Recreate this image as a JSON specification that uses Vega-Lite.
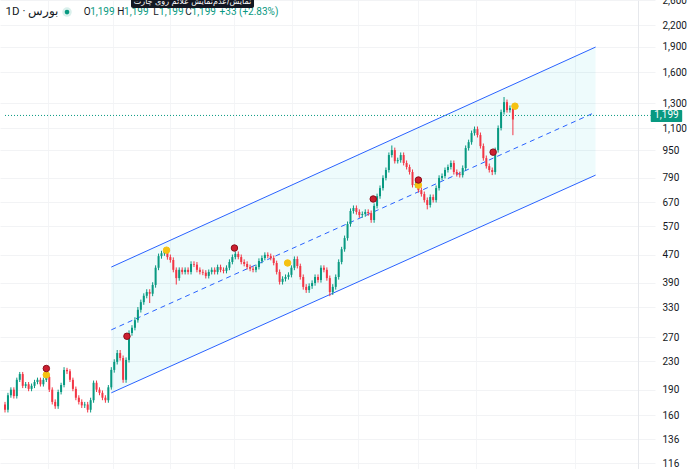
{
"$schema":"https://vega.github.io/schema/vega-lite/v6.json",
"width":638,"height":469,
"autosize":{"type":"none"},
"padding":{"left":0,"top":0,"right":52,"bottom":0},
"background":"white",
"config":{"view":{"stroke":null},"font":"Roboto"},
"datasets":{
"one":[{}],
"chan":[{"i":36,"up":433,"mid":284,"lo":186},{"i":200,"up":1898,"mid":1226,"lo":803}],
"sig":[{"i":14,"p":210,"k":"y"},{"i":14,"p":219,"k":"r"},{"i":41.3,"p":272,"k":"r"},{"i":54.7,"p":485,"k":"y"},{"i":77.7,"p":492,"k":"r"},{"i":95.7,"p":445,"k":"y"},{"i":124.7,"p":684,"k":"r"},{"i":140,"p":751,"k":"y"},{"i":140,"p":777,"k":"r"},{"i":165.3,"p":937,"k":"r"},{"i":172.7,"p":1276,"k":"y"}],
"candles":[
{"i":0,"o":172,"h":175,"l":163,"c":166},{"i":1,"o":166,"h":186,"l":163,"c":183},{"i":2,"o":183,"h":193,"l":180,"c":190},{"i":3,"o":190,"h":193,"l":179,"c":182},{"i":4,"o":182,"h":206,"l":179,"c":203},{"i":5,"o":203,"h":214,"l":200,"c":211},{"i":6,"o":211,"h":214,"l":192,"c":195},{"i":7,"o":195,"h":200,"l":192,"c":197},{"i":8,"o":197,"h":200,"l":188,"c":191},{"i":9,"o":191,"h":198,"l":188,"c":195},
{"i":10,"o":195,"h":203,"l":192,"c":200},{"i":11,"o":200,"h":206,"l":197,"c":203},{"i":12,"o":203,"h":206,"l":194,"c":197},{"i":13,"o":197,"h":206,"l":194,"c":203},{"i":14,"o":203,"h":212,"l":200,"c":207},{"i":15,"o":207,"h":210,"l":187,"c":190},{"i":16,"o":190,"h":193,"l":172,"c":175},{"i":17,"o":175,"h":178,"l":167,"c":170},{"i":18,"o":170,"h":190,"l":167,"c":187},{"i":19,"o":187,"h":199,"l":184,"c":196},
{"i":20,"o":196,"h":221,"l":193,"c":217},{"i":21,"o":217,"h":220,"l":211,"c":215},{"i":22,"o":215,"h":218,"l":200,"c":203},{"i":23,"o":203,"h":206,"l":188,"c":191},{"i":24,"o":191,"h":194,"l":177,"c":180},{"i":25,"o":180,"h":183,"l":172,"c":175},{"i":26,"o":175,"h":178,"l":168,"c":171},{"i":27,"o":171,"h":175,"l":168,"c":172},{"i":28,"o":172,"h":175,"l":163,"c":166},{"i":29,"o":166,"h":180,"l":163,"c":177},
{"i":30,"o":177,"h":202,"l":174,"c":199},{"i":31,"o":199,"h":202,"l":187,"c":190},{"i":32,"o":190,"h":193,"l":183,"c":186},{"i":33,"o":186,"h":189,"l":177,"c":180},{"i":34,"o":180,"h":183,"l":174,"c":177},{"i":35,"o":177,"h":196,"l":174,"c":193},{"i":36,"o":193,"h":221,"l":190,"c":217},{"i":37,"o":217,"h":233,"l":213,"c":229},{"i":38,"o":229,"h":248,"l":225,"c":243},{"i":39,"o":243,"h":248,"l":231,"c":235},
{"i":40,"o":235,"h":239,"l":199,"c":203},{"i":41,"o":203,"h":236,"l":199,"c":232},{"i":42,"o":232,"h":283,"l":228,"c":278},{"i":43,"o":278,"h":293,"l":273,"c":288},{"i":44,"o":288,"h":309,"l":283,"c":303},{"i":45,"o":303,"h":331,"l":298,"c":325},{"i":46,"o":325,"h":348,"l":319,"c":342},{"i":47,"o":342,"h":363,"l":336,"c":357},{"i":48,"o":357,"h":373,"l":351,"c":366},{"i":49,"o":366,"h":373,"l":340,"c":362},
{"i":50,"o":362,"h":391,"l":356,"c":384},{"i":51,"o":384,"h":438,"l":377,"c":431},{"i":52,"o":431,"h":474,"l":424,"c":466},{"i":53,"o":466,"h":483,"l":458,"c":475},{"i":54,"o":475,"h":492,"l":467,"c":482},{"i":55,"o":482,"h":490,"l":455,"c":463},{"i":56,"o":463,"h":471,"l":446,"c":454},{"i":57,"o":454,"h":462,"l":418,"c":425},{"i":58,"o":425,"h":432,"l":385,"c":402},{"i":59,"o":402,"h":432,"l":395,"c":425},
{"i":60,"o":425,"h":432,"l":412,"c":419},{"i":61,"o":419,"h":432,"l":412,"c":425},{"i":62,"o":425,"h":432,"l":412,"c":419},{"i":63,"o":419,"h":450,"l":412,"c":442},{"i":64,"o":442,"h":450,"l":433,"c":440},{"i":65,"o":440,"h":448,"l":418,"c":425},{"i":66,"o":425,"h":432,"l":412,"c":419},{"i":67,"o":419,"h":426,"l":410,"c":417},{"i":68,"o":417,"h":424,"l":401,"c":408},{"i":69,"o":408,"h":426,"l":401,"c":419},
{"i":70,"o":419,"h":432,"l":412,"c":425},{"i":71,"o":425,"h":432,"l":412,"c":419},{"i":72,"o":419,"h":440,"l":412,"c":433},{"i":73,"o":433,"h":440,"l":418,"c":425},{"i":74,"o":425,"h":432,"l":415,"c":422},{"i":75,"o":422,"h":438,"l":415,"c":431},{"i":76,"o":431,"h":456,"l":424,"c":448},{"i":77,"o":448,"h":471,"l":441,"c":463},{"i":78,"o":463,"h":481,"l":456,"c":473},{"i":79,"o":473,"h":481,"l":456,"c":463},
{"i":80,"o":463,"h":471,"l":441,"c":448},{"i":81,"o":448,"h":456,"l":435,"c":442},{"i":82,"o":442,"h":450,"l":426,"c":433},{"i":83,"o":433,"h":440,"l":421,"c":428},{"i":84,"o":428,"h":435,"l":418,"c":425},{"i":85,"o":425,"h":440,"l":418,"c":433},{"i":86,"o":433,"h":459,"l":426,"c":451},{"i":87,"o":451,"h":468,"l":444,"c":460},{"i":88,"o":460,"h":478,"l":453,"c":470},{"i":89,"o":470,"h":478,"l":459,"c":466},
{"i":90,"o":466,"h":474,"l":453,"c":460},{"i":91,"o":460,"h":468,"l":438,"c":445},{"i":92,"o":445,"h":452,"l":412,"c":419},{"i":93,"o":419,"h":426,"l":385,"c":392},{"i":94,"o":392,"h":407,"l":385,"c":400},{"i":95,"o":400,"h":412,"l":393,"c":405},{"i":96,"o":405,"h":418,"l":398,"c":411},{"i":97,"o":411,"h":438,"l":404,"c":431},{"i":98,"o":431,"h":465,"l":424,"c":457},{"i":99,"o":457,"h":465,"l":429,"c":436},
{"i":100,"o":436,"h":443,"l":398,"c":405},{"i":101,"o":405,"h":412,"l":372,"c":379},{"i":102,"o":379,"h":386,"l":364,"c":371},{"i":103,"o":371,"h":388,"l":364,"c":381},{"i":104,"o":381,"h":396,"l":374,"c":389},{"i":105,"o":389,"h":412,"l":382,"c":405},{"i":106,"o":405,"h":412,"l":390,"c":397},{"i":107,"o":397,"h":438,"l":390,"c":431},{"i":108,"o":431,"h":438,"l":418,"c":425},{"i":109,"o":425,"h":432,"l":395,"c":402},
{"i":110,"o":402,"h":409,"l":356,"c":366},{"i":111,"o":366,"h":386,"l":359,"c":379},{"i":112,"o":379,"h":412,"l":372,"c":405},{"i":113,"o":405,"h":456,"l":398,"c":448},{"i":114,"o":448,"h":496,"l":441,"c":488},{"i":115,"o":488,"h":535,"l":480,"c":526},{"i":116,"o":526,"h":588,"l":517,"c":578},{"i":117,"o":578,"h":642,"l":568,"c":631},{"i":118,"o":631,"h":655,"l":620,"c":644},{"i":119,"o":644,"h":655,"l":616,"c":627},
{"i":120,"o":627,"h":638,"l":603,"c":614},{"i":121,"o":614,"h":629,"l":603,"c":618},{"i":122,"o":618,"h":638,"l":607,"c":627},{"i":123,"o":627,"h":638,"l":611,"c":622},{"i":124,"o":622,"h":633,"l":583,"c":594},{"i":125,"o":594,"h":664,"l":583,"c":653},{"i":126,"o":653,"h":709,"l":642,"c":697},{"i":127,"o":697,"h":749,"l":685,"c":736},{"i":128,"o":736,"h":802,"l":724,"c":788},{"i":129,"o":788,"h":845,"l":775,"c":831},
{"i":130,"o":831,"h":935,"l":817,"c":919},{"i":131,"o":919,"h":980,"l":904,"c":950},{"i":132,"o":950,"h":966,"l":868,"c":882},{"i":133,"o":882,"h":903,"l":868,"c":888},{"i":134,"o":888,"h":935,"l":873,"c":919},{"i":135,"o":919,"h":935,"l":857,"c":871},{"i":136,"o":871,"h":886,"l":834,"c":848},{"i":137,"o":848,"h":862,"l":806,"c":820},{"i":138,"o":820,"h":834,"l":739,"c":751},{"i":139,"o":751,"h":769,"l":739,"c":756},
{"i":140,"o":756,"h":769,"l":714,"c":726},{"i":141,"o":726,"h":739,"l":695,"c":707},{"i":142,"o":707,"h":719,"l":668,"c":679},{"i":143,"o":679,"h":691,"l":638,"c":657},{"i":144,"o":657,"h":705,"l":646,"c":693},{"i":145,"o":693,"h":705,"l":668,"c":679},{"i":146,"o":679,"h":749,"l":668,"c":736},{"i":147,"o":736,"h":802,"l":724,"c":788},{"i":148,"o":788,"h":812,"l":775,"c":798},{"i":149,"o":798,"h":845,"l":785,"c":831},
{"i":150,"o":831,"h":862,"l":817,"c":848},{"i":151,"o":848,"h":886,"l":834,"c":871},{"i":152,"o":871,"h":886,"l":806,"c":820},{"i":153,"o":820,"h":834,"l":795,"c":808},{"i":154,"o":808,"h":822,"l":790,"c":803},{"i":155,"o":803,"h":857,"l":790,"c":842},{"i":156,"o":842,"h":980,"l":828,"c":963},{"i":157,"o":963,"h":1019,"l":947,"c":1002},{"i":158,"o":1002,"h":1083,"l":985,"c":1065},{"i":159,"o":1065,"h":1113,"l":1047,"c":1094},
{"i":160,"o":1094,"h":1113,"l":1034,"c":1051},{"i":161,"o":1051,"h":1069,"l":960,"c":976},{"i":162,"o":976,"h":993,"l":885,"c":900},{"i":163,"o":900,"h":916,"l":839,"c":853},{"i":164,"o":853,"h":868,"l":817,"c":831},{"i":165,"o":831,"h":845,"l":803,"c":820},{"i":166,"o":820,"h":966,"l":806,"c":950},{"i":167,"o":950,"h":1121,"l":934,"c":1102},{"i":168,"o":1102,"h":1247,"l":1084,"c":1226},{"i":169,"o":1226,"h":1357,"l":1206,"c":1311},
{"i":170,"o":1311,"h":1334,"l":1222,"c":1243},{"i":171,"o":1243,"h":1282,"l":1222,"c":1260},{"i":172,"o":1260,"h":1282,"l":1050,"c":1166},{"i":173,"o":1199,"h":1199,"l":1199,"c":1199}
]},
"layer":[
{"data":{"name":"chan"},
 "mark":{"type":"area","fill":"#00bcd4","opacity":0.065},
 "encoding":{
  "x":{"field":"i","type":"quantitative","title":null,"scale":{"domain":[0,212.67],"nice":false,"zero":false},
       "axis":{"values":[14.67,36.67,56,77.67,97.33,119.67,140,159.67,193],"grid":true,"gridColor":"#f4f5f7","labels":false,"ticks":false,"domain":false,"title":null}},
  "y":{"field":"lo","type":"quantitative","title":null,"scale":{"type":"log","domain":[111.5,2604],"nice":false,"zero":false},
       "axis":{"orient":"right","values":[116,136,160,190,230,270,330,390,470,570,670,790,950,1100,1300,1600,1900,2200,2600],"format":",d","grid":true,"gridColor":"#f2f3f5","tickSize":17,"tickColor":"#f2f3f5","labelPadding":7,"labelFontSize":10,"labelFont":"Roboto","labelColor":"#131722","domain":true,"domainColor":"#e6e8ec","labelOverlap":false,"labelFlush":false,"labelBound":false,"title":null}},
  "y2":{"field":"up"}}},
{"data":{"name":"chan"},"mark":{"type":"line","color":"#2962ff","strokeWidth":1},
 "encoding":{"x":{"field":"i","type":"quantitative","title":null},"y":{"field":"up","type":"quantitative","title":null}}},
{"data":{"name":"chan"},"mark":{"type":"line","color":"#2962ff","strokeWidth":1},
 "encoding":{"x":{"field":"i","type":"quantitative","title":null},"y":{"field":"lo","type":"quantitative","title":null}}},
{"data":{"name":"chan"},"mark":{"type":"line","color":"#2962ff","strokeWidth":1,"strokeDash":[5,4]},
 "encoding":{"x":{"field":"i","type":"quantitative","title":null},"y":{"field":"mid","type":"quantitative","title":null}}},
{"data":{"name":"one"},"mark":{"type":"rule","color":"#089981","strokeWidth":1,"strokeDash":[1,2]},
 "encoding":{"x":{"datum":0},"x2":{"datum":218.67},"y":{"datum":1199}}},
{"data":{"name":"candles"},"mark":{"type":"rule","strokeWidth":1},
 "encoding":{"x":{"field":"i","type":"quantitative","title":null},"y":{"field":"l","type":"quantitative","title":null},"y2":{"field":"h"},
  "color":{"condition":{"test":"datum.c >= datum.o","value":"#089981"},"value":"#f23645"}}},
{"data":{"name":"candles"},"mark":{"type":"bar","width":2},
 "encoding":{"x":{"field":"i","type":"quantitative","title":null},"y":{"field":"o","type":"quantitative","title":null},"y2":{"field":"c"},
  "color":{"condition":{"test":"datum.c >= datum.o","value":"#089981"},"value":"#f23645"}}},
{"data":{"name":"sig"},"mark":{"type":"circle","size":42,"strokeWidth":1,"opacity":1},
 "encoding":{"x":{"field":"i","type":"quantitative","title":null},"y":{"field":"p","type":"quantitative","title":null},
  "fill":{"field":"k","type":"nominal","scale":{"domain":["r","y"],"range":["#cc1f2f","#f5c211"]},"legend":null},
  "stroke":{"field":"k","type":"nominal","scale":{"domain":["r","y"],"range":["#8b0f1c","#f5c211"]},"legend":null}}},
{"data":{"name":"one"},"mark":{"type":"rect","fill":"#089981","cornerRadius":1},
 "encoding":{"x":{"datum":218.67},"x2":{"datum":229.33},"y":{"datum":1243},"y2":{"datum":1147}}},
{"data":{"name":"one"},"mark":{"type":"text","text":"1,199","color":"white","fontSize":10,"align":"center","baseline":"middle","font":"Roboto"},
 "encoding":{"x":{"datum":224},"y":{"datum":1199}}},
{"data":{"name":"one"},"mark":{"type":"text","text":"1D · بورس","color":"#131722","fontSize":11.5,"align":"left","baseline":"middle","font":"Roboto"},
 "encoding":{"x":{"datum":0.2},"y":{"datum":2401}}},
{"data":{"name":"one"},"mark":{"type":"circle","size":90,"color":"#089981","opacity":0.15},
 "encoding":{"x":{"datum":21},"y":{"datum":2401}}},
{"data":{"name":"one"},"mark":{"type":"circle","size":22,"color":"#089981","opacity":1},
 "encoding":{"x":{"datum":21},"y":{"datum":2401}}},
{"data":{"name":"one"},"mark":{"type":"text","text":"O","color":"#131722","fontSize":10,"align":"left","baseline":"middle","font":"Roboto"},
 "encoding":{"x":{"datum":26.67},"y":{"datum":2401}}},
{"data":{"name":"one"},"mark":{"type":"text","text":"1,199","color":"#089981","fontSize":10,"align":"left","baseline":"middle","font":"Roboto"},
 "encoding":{"x":{"datum":28.83},"y":{"datum":2401}}},
{"data":{"name":"one"},"mark":{"type":"text","text":"H","color":"#131722","fontSize":10,"align":"left","baseline":"middle","font":"Roboto"},
 "encoding":{"x":{"datum":38},"y":{"datum":2401}}},
{"data":{"name":"one"},"mark":{"type":"text","text":"1,199","color":"#089981","fontSize":10,"align":"left","baseline":"middle","font":"Roboto"},
 "encoding":{"x":{"datum":40.33},"y":{"datum":2401}}},
{"data":{"name":"one"},"mark":{"type":"text","text":"L","color":"#131722","fontSize":10,"align":"left","baseline":"middle","font":"Roboto"},
 "encoding":{"x":{"datum":50.17},"y":{"datum":2401}}},
{"data":{"name":"one"},"mark":{"type":"text","text":"1,199","color":"#089981","fontSize":10,"align":"left","baseline":"middle","font":"Roboto"},
 "encoding":{"x":{"datum":52.17},"y":{"datum":2401}}},
{"data":{"name":"one"},"mark":{"type":"text","text":"C","color":"#131722","fontSize":10,"align":"left","baseline":"middle","font":"Roboto"},
 "encoding":{"x":{"datum":61},"y":{"datum":2401}}},
{"data":{"name":"one"},"mark":{"type":"text","text":"1,199","color":"#089981","fontSize":10,"align":"left","baseline":"middle","font":"Roboto"},
 "encoding":{"x":{"datum":63.17},"y":{"datum":2401}}},
{"data":{"name":"one"},"mark":{"type":"text","text":"+33 (+2.83%)","color":"#089981","fontSize":10,"align":"left","baseline":"middle","font":"Roboto"},
 "encoding":{"x":{"datum":72.67},"y":{"datum":2401}}},
{"data":{"name":"one"},"mark":{"type":"rect","fill":"#131722","cornerRadius":2},
 "encoding":{"x":{"datum":42.67},"x2":{"datum":84.33},"y":{"datum":2750},"y2":{"datum":2466}}},
{"data":{"name":"one"},"mark":{"type":"text","text":"نمایش/عدم‌نمایش علائم روی چارت","color":"white","fontSize":8,"align":"center","baseline":"middle","font":"DejaVu Sans"},
 "encoding":{"x":{"datum":63.5},"y":{"datum":2570}}}
]
}
